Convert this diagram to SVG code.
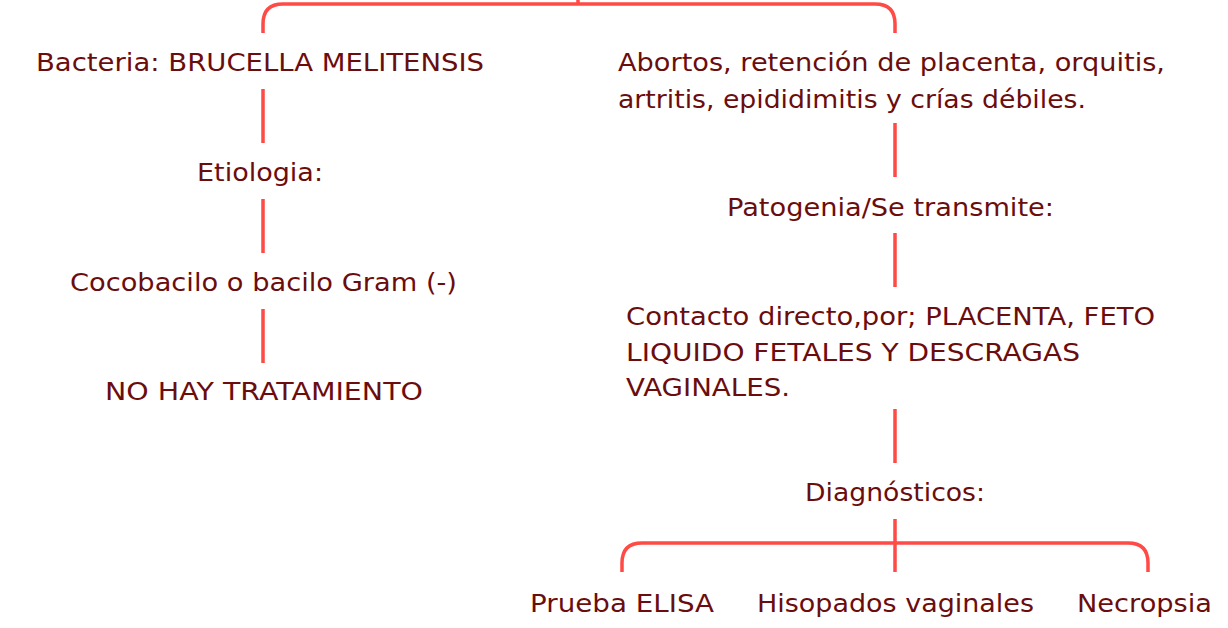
<svg xmlns="http://www.w3.org/2000/svg" width="1228" height="628" viewBox="0 0 1228 628">
<style>
text{font-family:"DejaVu Sans","Open Sans",sans-serif;font-size:24.5px;fill:#6b0d0d}
.c{stroke:#ff4a45;stroke-width:3.5;fill:none;stroke-linecap:butt}
</style>
<rect width="1228" height="628" fill="#ffffff"/>
<g id="connectors">
<path class="c" d="M578,0 V4 M263,33 V24 Q263,4 283,4 H875 Q895,4 895,24 V33"/>
<path class="c" d="M263,89 V143 M263,199 V253 M263,309 V363"/>
<path class="c" d="M895,123 V177 M895,233 V287 M895,409 V463 M895,519 V572"/>
<path class="c" d="M622,572 V563 Q622,543 642,543 H1128 Q1148,543 1148,563 V572"/>
</g>
<g id="n1"><text x="36" y="71" textLength="448" lengthAdjust="spacingAndGlyphs">Bacteria: BRUCELLA MELITENSIS</text></g>
<g id="n2"><text x="197" y="181" textLength="126" lengthAdjust="spacingAndGlyphs">Etiologia:</text></g>
<g id="n3"><text x="70" y="291" textLength="387" lengthAdjust="spacingAndGlyphs">Cocobacilo o bacilo Gram (-)</text></g>
<g id="n4"><text x="105" y="400" textLength="318" lengthAdjust="spacingAndGlyphs">NO HAY TRATAMIENTO</text></g>
<g id="n5"><text x="618" y="71" textLength="547" lengthAdjust="spacingAndGlyphs">Abortos, retención de placenta, orquitis,</text><text x="618" y="108" textLength="468" lengthAdjust="spacingAndGlyphs">artritis, epididimitis y crías débiles.</text></g>
<g id="n6"><text x="727" y="216" textLength="327" lengthAdjust="spacingAndGlyphs">Patogenia/Se transmite:</text></g>
<g id="n7"><text x="626" y="325" textLength="529" lengthAdjust="spacingAndGlyphs">Contacto directo,por; PLACENTA, FETO</text><text x="626" y="361" textLength="454" lengthAdjust="spacingAndGlyphs">LIQUIDO FETALES Y DESCRAGAS</text><text x="626" y="396" textLength="164" lengthAdjust="spacingAndGlyphs">VAGINALES.</text></g>
<g id="n8"><text x="805" y="501" textLength="180" lengthAdjust="spacingAndGlyphs">Diagnósticos:</text></g>
<g id="n9"><text x="530" y="612" textLength="184" lengthAdjust="spacingAndGlyphs">Prueba ELISA</text></g>
<g id="n10"><text x="757" y="612" textLength="277" lengthAdjust="spacingAndGlyphs">Hisopados vaginales</text></g>
<g id="n11"><text x="1077" y="612" textLength="135" lengthAdjust="spacingAndGlyphs">Necropsia</text></g>
</svg>
